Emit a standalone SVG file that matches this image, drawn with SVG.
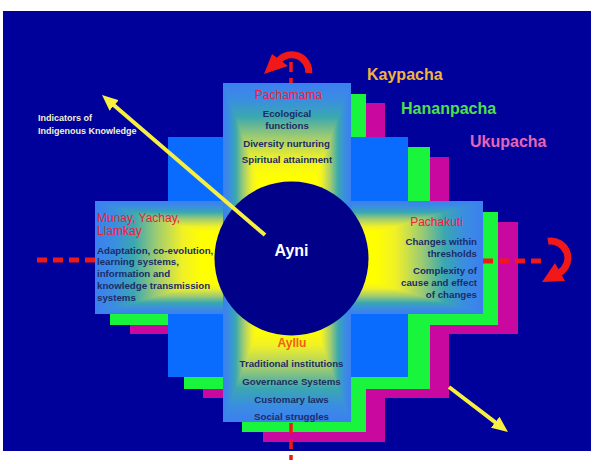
<svg xmlns="http://www.w3.org/2000/svg" width="594" height="464" viewBox="0 0 594 464">
<style>
text{font-family:"Liberation Sans",Arial,sans-serif}
.body{font-size:9.7px;font-weight:bold;fill:#1c2c66}
.ttl{font-size:12px;fill:#f0203a}
.world{font-size:16px;font-weight:bold}
.dash{stroke:#f01818;fill:none;stroke-dasharray:10 6}
.curl{stroke:#f01818;fill:none;stroke-width:7}
.yarrow{stroke:#f8f040;stroke-width:4;fill:none}
</style>
<defs>
<linearGradient id="gv" x1="0" y1="0" x2="0" y2="1">
<stop offset="0" stop-color="#3c7ff0"/><stop offset="0.05" stop-color="#3a8ee0"/><stop offset="0.10" stop-color="#3aa8b0"/><stop offset="0.16" stop-color="#a0cc70"/><stop offset="0.225" stop-color="#f0f028"/><stop offset="0.275" stop-color="#ffff00"/>
<stop offset="0.725" stop-color="#ffff00"/><stop offset="0.775" stop-color="#f0f028"/><stop offset="0.84" stop-color="#a0cc70"/><stop offset="0.90" stop-color="#3aa8b0"/><stop offset="0.95" stop-color="#3a8ee0"/><stop offset="1" stop-color="#3c7ff0"/>
</linearGradient>
<linearGradient id="gh" x1="0" y1="0" x2="1" y2="0">
<stop offset="0" stop-color="#3c7ff0"/><stop offset="0.05" stop-color="#3a8ee0"/><stop offset="0.10" stop-color="#3aa8b0"/><stop offset="0.16" stop-color="#a0cc70"/><stop offset="0.225" stop-color="#f0f028"/><stop offset="0.275" stop-color="#ffff00"/>
<stop offset="0.725" stop-color="#ffff00"/><stop offset="0.775" stop-color="#f0f028"/><stop offset="0.84" stop-color="#a0cc70"/><stop offset="0.90" stop-color="#3aa8b0"/><stop offset="0.95" stop-color="#3a8ee0"/><stop offset="1" stop-color="#3c7ff0"/>
</linearGradient>
<marker id="ah" markerUnits="userSpaceOnUse" markerWidth="18" markerHeight="14" refX="8" refY="7" orient="auto"><path d="M0,0 L16,7 L0,14 z" fill="#f8f040"/></marker>
</defs>
<rect x="0" y="0" width="594" height="464" fill="#ffffff"/>
<rect x="3" y="11" width="588" height="440" fill="#00009a"/>

<g id="ukupacha-layer" fill="#c8089e">
<rect x="263" y="103" width="122" height="339"/>
<rect x="203" y="157" width="246" height="241"/>
<rect x="130" y="222" width="388" height="112"/>
</g>
<g id="hananpacha-layer" fill="#19f53c">
<rect x="242" y="94" width="124" height="338"/>
<rect x="184" y="147" width="246" height="242"/>
<rect x="110" y="212" width="388" height="113"/>
</g>
<g id="kaypacha-layer">
<rect x="168" y="137" width="240" height="240" fill="#0a6bff"/>
</g>

<g id="panel-horizontal">
<rect x="95" y="201" width="388" height="113" fill="url(#gv)"/>
<path d="M95,201 L289,257.5 L95,314 Z M483,201 L289,257.5 L483,314 Z" fill="url(#gh)"/>
</g>
<g id="panel-vertical">
<rect x="223" y="83" width="128" height="339" fill="url(#gv)"/>
<path d="M223,83 L287,252.5 L223,422 Z M351,83 L287,252.5 L351,422 Z" fill="url(#gh)"/>
</g>

<g id="ayni">
<circle cx="291.5" cy="258.5" r="77" fill="#000088"/>
<text x="291.5" y="256" font-size="16" font-weight="bold" fill="#ffffff" text-anchor="middle">Ayni</text>
</g>

<g id="pachamama">
<text class="ttl" x="288.5" y="99" text-anchor="middle">Pachamama</text>
<text class="body" x="287" y="116.5" text-anchor="middle">Ecological</text>
<text class="body" x="287" y="128.5" text-anchor="middle">functions</text>
<text class="body" x="286.5" y="146.5" text-anchor="middle">Diversity nurturing</text>
<text class="body" x="287" y="162.5" text-anchor="middle">Spiritual attainment</text>
</g>

<g id="munay">
<text class="ttl" x="97" y="222">Munay, Yachay,</text>
<text class="ttl" x="97" y="235">Llamkay</text>
<text class="body" x="97" y="253.5">Adaptation, co-evolution,</text>
<text class="body" x="97" y="265.3">learning systems,</text>
<text class="body" x="97" y="277.1">information and</text>
<text class="body" x="97" y="288.9">knowledge transmission</text>
<text class="body" x="97" y="300.7">systems</text>
</g>

<g id="pachakuti">
<text class="ttl" x="436.5" y="226" text-anchor="middle">Pachakuti</text>
<text class="body" x="477" y="244.5" text-anchor="end">Changes within</text>
<text class="body" x="477" y="256.5" text-anchor="end">thresholds</text>
<text class="body" x="477" y="273.5" text-anchor="end">Complexity of</text>
<text class="body" x="477" y="285.5" text-anchor="end">cause and effect</text>
<text class="body" x="477" y="297.5" text-anchor="end">of changes</text>
</g>

<g id="ayllu">
<text x="292" y="347" font-size="12" font-weight="bold" fill="#f06010" text-anchor="middle">Ayllu</text>
<text class="body" x="291.5" y="366.5" text-anchor="middle">Traditional institutions</text>
<text class="body" x="291.5" y="384.5" text-anchor="middle">Governance Systems</text>
<text class="body" x="291.5" y="402.5" text-anchor="middle">Customary laws</text>
<text class="body" x="291.5" y="419.5" text-anchor="middle">Social struggles</text>
</g>

<g id="worlds">
<text class="world" x="367" y="80" fill="#f2b33d">Kaypacha</text>
<text class="world" x="401" y="114" fill="#4ee04a">Hananpacha</text>
<text class="world" x="470" y="147" font-size="15" fill="#e665b5">Ukupacha</text>
</g>

<g id="indicators">
<text x="38" y="121" font-size="9" font-weight="bold" fill="#f4f2d0">Indicators of</text>
<text x="38" y="133.5" font-size="9" font-weight="bold" fill="#f4f2d0">Indigenous Knowledge</text>
</g>

<g id="connectors">
<path class="dash" stroke-width="5" d="M37,260 H97"/>
<path class="dash" stroke-width="5" d="M483,261 H547"/>
<path class="dash" stroke-width="3.5" d="M291,62 V83"/>
<path class="dash" stroke-width="3.5" stroke-dasharray="7 5" d="M291,423 V460"/>
<path class="curl" d="M308.7,73 A17,17 0 0 0 279,60.5"/>
<polygon points="264,74 288,66 272,54" fill="#f01818"/>
<path class="curl" d="M548,241.3 A17,17 0 0 1 559.5,272.7"/>
<polygon points="542,282 565,281 555,263" fill="#f01818"/>
<line class="yarrow" x1="265" y1="235" x2="108.1" y2="100.2" marker-end="url(#ah)"/>
<line class="yarrow" x1="449" y1="387" x2="501.6" y2="427.1" marker-end="url(#ah)"/>
</g>
</svg>
